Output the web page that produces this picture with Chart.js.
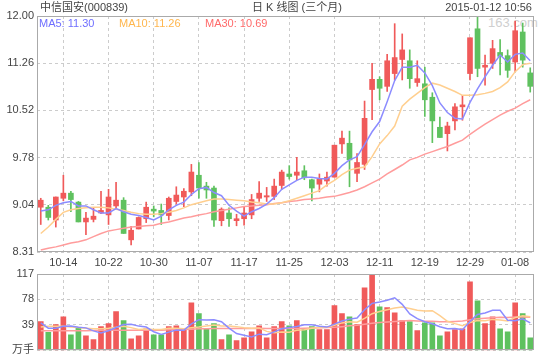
<!DOCTYPE html>
<html>
<head>
<meta charset="utf-8">
<script src="https://cdn.jsdelivr.net/npm/chart.js@4.4.0/dist/chart.umd.min.js"></script>
<style>
  body { margin: 0; background: #fff; }
  #wrap { position: relative; width: 540px; height: 360px; overflow: hidden;
          font-family: "Liberation Sans", "Noto Sans CJK SC", sans-serif; font-size: 11px; color: #444; }
  .txt { position: absolute; line-height: 14px; white-space: nowrap; }
  canvas { position: absolute; left: 0; }
</style>
</head>
<body>
<div id="wrap">
  <div class="txt" style="left:488px;top:16px;font-size:13px;color:#cfcfcf">163.com</div>
  <canvas id="kline" width="540" height="272" style="top:0"></canvas>
  <canvas id="vol" width="540" height="98" style="top:262px"></canvas>
  <div class="txt" style="left:40px;top:0">中信国安(000839)</div>
  <div class="txt" style="left:252px;top:0">日 K 线图 (三个月)</div>
  <div class="txt" style="right:8px;top:0">2015-01-12 10:56</div>
  <div class="txt" id="l5" style="left:39px;top:16px;color:#6f6fff"></div>
  <div class="txt" id="l10" style="left:119px;top:16px;color:#ffb64d"></div>
  <div class="txt" id="l30" style="left:205px;top:16px;color:#ff6a6a"></div>
</div>
<script>
// 中信国安 日K (2014-10-09 .. 2015-01-12)
const dates = ["10-09","10-10","10-13","10-14","10-15","10-16","10-17","10-20","10-21","10-22",
  "10-23","10-24","10-27","10-28","10-29","10-30","10-31","11-03","11-04","11-05",
  "11-06","11-07","11-10","11-11","11-12","11-13","11-14","11-17","11-18","11-19",
  "11-20","11-21","11-24","11-25","11-26","11-27","11-28","12-01","12-02","12-03",
  "12-04","12-05","12-08","12-09","12-10","12-11","12-12","12-15","12-16","12-17",
  "12-18","12-19","12-22","12-23","12-24","12-25","12-26","12-29","12-30","12-31",
  "01-05","01-06","01-07","01-08","01-09","01-12"];

const opens = [9.01,9.01,8.81,9.15,9.23,9.09,8.78,8.82,8.92,8.89,
  9.03,9.12,8.50,8.67,8.83,8.98,8.96,8.88,9.10,9.17,
  9.25,9.51,9.34,9.31,8.80,8.92,8.80,8.83,8.89,9.15,
  9.17,9.18,9.35,9.53,9.51,9.58,9.44,9.37,9.42,9.48,
  10.00,10.01,9.54,9.68,10.85,11.01,10.90,11.10,11.32,11.30,
  10.96,10.94,10.73,10.26,10.16,10.36,10.58,11.10,11.80,11.20,
  11.26,11.43,11.38,11.28,11.75,11.11];
const closes = [9.12,8.85,9.17,9.23,9.13,8.78,8.84,8.87,8.96,9.17,
  9.12,8.60,8.65,8.85,9.01,8.95,8.89,9.15,9.20,9.26,
  9.56,9.31,9.28,8.81,8.98,8.83,8.83,8.92,9.13,9.23,
  9.19,9.34,9.56,9.49,9.56,9.47,9.31,9.45,9.48,9.98,
  10.09,9.75,9.71,10.40,11.01,10.87,11.30,11.35,11.47,11.02,
  11.02,10.69,10.36,10.10,10.28,10.58,10.61,11.66,11.18,11.23,
  11.49,11.37,11.15,11.77,11.31,10.90];
const highs = [9.15,9.04,9.17,9.51,9.26,9.10,8.93,9.00,9.26,9.29,
  9.40,9.16,8.71,8.86,9.09,9.03,9.06,9.17,9.33,9.30,
  9.68,9.71,9.40,9.34,9.00,9.00,8.90,9.02,9.21,9.41,
  9.32,9.45,9.59,9.66,9.79,9.66,9.45,9.53,9.56,9.98,
  10.20,10.20,9.85,10.67,11.26,11.05,11.40,11.88,11.72,11.47,
  11.30,11.20,10.80,10.42,10.34,10.63,10.76,11.66,11.99,11.39,
  11.62,11.63,11.47,11.92,11.89,11.19];
const lows = [8.74,8.81,8.70,9.11,8.94,8.78,8.58,8.78,8.91,8.74,
  8.99,8.60,8.42,8.67,8.77,8.86,8.74,8.81,9.06,9.02,
  9.19,9.15,9.15,8.71,8.72,8.71,8.72,8.73,8.83,9.10,
  9.10,9.13,9.29,9.45,9.44,9.44,9.11,9.25,9.34,9.48,
  9.85,9.33,9.41,9.60,10.38,10.69,10.82,11.00,11.00,10.87,
  10.90,10.43,10.02,10.10,9.89,10.22,10.37,11.00,11.05,10.92,
  11.18,11.08,11.04,11.13,11.20,10.81];

const ma5 = [8.95,8.97,9.04,9.08,9.10,9.03,9.03,8.97,8.92,8.92,
  8.99,8.94,8.90,8.88,8.85,8.81,8.87,8.97,9.04,9.09,
  9.21,9.30,9.32,9.24,9.19,9.04,8.95,8.87,8.94,8.99,
  9.06,9.16,9.29,9.36,9.43,9.48,9.48,9.46,9.45,9.54,
  9.66,9.75,9.80,9.99,10.19,10.35,10.66,10.99,11.20,11.20,
  11.23,11.11,10.91,10.64,10.49,10.40,10.39,10.65,10.86,11.05,
  11.23,11.39,11.28,11.40,11.42,11.30];
const ma10 = [8.60,8.70,8.82,8.93,8.97,8.99,9.00,9.01,9.01,9.00,
  8.98,8.96,8.93,8.91,8.90,8.90,8.91,8.93,8.96,9.00,
  9.05,9.08,9.11,9.14,9.14,9.13,9.12,9.11,9.09,9.08,
  9.06,9.06,9.08,9.11,9.15,9.19,9.23,9.27,9.36,9.43,
  9.52,9.59,9.62,9.64,9.80,10.00,10.13,10.28,10.59,10.70,
  10.79,10.88,10.95,10.92,10.87,10.82,10.76,10.76,10.77,10.79,
  10.82,10.88,10.97,11.13,11.24,11.26];
const ma30 = [8.34,8.37,8.39,8.42,8.45,8.47,8.50,8.55,8.60,8.64,
  8.66,8.68,8.70,8.71,8.72,8.73,8.76,8.78,8.81,8.84,
  8.86,8.89,8.91,8.94,8.96,8.98,9.00,9.02,9.03,9.04,
  9.05,9.07,9.08,9.10,9.11,9.13,9.14,9.15,9.17,9.18,
  9.21,9.24,9.28,9.33,9.39,9.45,9.53,9.60,9.67,9.75,
  9.79,9.84,9.88,9.92,9.96,10.01,10.06,10.15,10.23,10.31,
  10.38,10.45,10.51,10.56,10.63,10.69];

// 成交量 (万手)
const volumes = [44,27.6,39.4,51.6,24,34.8,22.5,16.4,36.3,40.9,
  59.3,45.5,17.9,22.5,33.2,24,24,36.3,37.8,31.7,
  73,56.2,33.2,40.9,16.4,24,14.9,19.4,28.6,37.8,
  19.4,36.3,44,37.8,45.5,33.2,36.3,31.7,31.7,68.5,
  56.2,51.6,39.4,96,117,66.9,65.4,57.7,45.5,44,
  30.2,42.4,42.4,22.5,28.6,31.7,33.2,105.2,76.1,40.9,
  51.6,33.2,28.6,73,56.2,19.4];
const volMa5 = [42,34,34,37,37.3,35.5,34.5,29.9,26.8,30.2,
  35.1,39.7,40.0,37.2,35.7,28.6,24.3,28.0,31.1,30.8,
  40.6,47.0,46.4,47.0,43.9,34.1,25.9,23.1,20.7,24.9,
  24.0,28.3,33.2,35.1,36.6,39.4,39.4,36.9,35.7,40.3,
  44.9,47.9,49.5,62.3,72.0,74.2,76.9,80.6,70.5,55.9,
  48.6,44.0,40.9,36.3,33.2,33.5,31.7,44.2,55.0,57.4,
  61.4,61.4,46.1,45.5,48.5,42.1];
const volMa10 = [36,37,37,37,36,35,34,33,33,33.8,
  35.3,37.1,34.9,32.0,32.9,31.9,32.0,34.0,34.1,33.2,
  34.6,35.7,37.2,39.0,37.4,37.4,36.4,34.8,33.8,34.4,
  29.1,27.1,28.2,27.9,30.8,31.7,33.8,35.1,35.4,38.4,
  42.1,43.7,43.2,49.0,56.2,59.5,62.4,65.0,66.4,64.0,
  61.4,60.5,60.8,53.4,44.6,41.0,37.8,42.6,45.6,45.3,
  47.5,46.5,45.2,50.2,53.0,51.7];
const volMa30 = [30,30,30,30,30,30,30,30.5,31,31,
  31,31,31,31,31,31,31,31.5,32,32,
  32.5,33,33,33.5,33.5,33.5,33.5,33.5,33.5,33.8,
  33.6,33.6,33.7,33.7,33.7,34,34.4,34.7,35,35.4,
  36.4,37.6,38.5,39.9,41.4,42.6,43.5,44.4,45.0,45.6,
  45.2,44.8,44.5,44.0,43.8,44.4,45.0,47.0,48.3,49.2,
  50.1,50.6,50.5,51.0,51.2,50.8];

const priceTicks = [8.31, 9.048, 9.786, 10.524, 11.262, 12.00];
const priceTickLabels = ["8.31", "9.04", "9.78", "10.52", "11.26", "12.00"];
const volTicks = [0, 39, 78, 117];
const volTickLabels = ["万手", "39", "78", "117"];

const RED = "#f05a5a", GREEN = "#5fc15f";
const candleColors = closes.map((c, i) => c >= opens[i] ? RED : GREEN);

Chart.defaults.font.family = '"Liberation Sans", "Noto Sans CJK SC", sans-serif';
Chart.defaults.font.size = 11;
Chart.defaults.color = "#444";

document.getElementById("l5").textContent = "MA5: " + ma5[ma5.length - 1].toFixed(2);
document.getElementById("l10").textContent = "MA10: " + ma10[ma10.length - 1].toFixed(2);
document.getElementById("l30").textContent = "MA30: " + ma30[ma30.length - 1].toFixed(2);

// cadre gris autour de la zone de tracé
const boxPlugin = {
  id: "box",
  afterDraw(chart) {
    const a = chart.chartArea, ctx = chart.ctx;
    ctx.save();
    ctx.strokeStyle = "#aaa";
    ctx.lineWidth = 1;
    ctx.strokeRect(Math.round(a.left) + 0.5, Math.round(a.top) + 0.5,
      Math.round(a.right - a.left) - 1, Math.round(a.bottom - a.top) - 1);
    ctx.restore();
  }
};

function maLine(data, color, order) {
  return { type: "line", data: data, borderColor: color, borderWidth: 1.5,
    pointRadius: 0, tension: 0, fill: false, order: order };
}

function xScale(showLabels) {
  return {
    offset: true,
    grid: { offset: false, drawTicks: false,
      color: c => c.index % 6 === 3 ? "#cccccc" : "rgba(0,0,0,0)" },
    border: { display: false, dash: [3, 3] },
    ticks: { display: showLabels, autoSkip: false, maxRotation: 0, padding: 4,
      callback: (v, i) => i % 6 === 3 ? dates[i] : "" },
    afterFit: s => { s.height = showLabels ? 20 : 0; }
  };
}

function yScale(min, max, ticks, labels) {
  return {
    min: min, max: max,
    afterBuildTicks: s => { s.ticks = ticks.map(v => ({ value: v })); },
    ticks: { padding: 3, callback: (v, i) => labels[i] },
    grid: { drawTicks: false, color: "#cccccc" },
    border: { display: false, dash: [3, 3] },
    afterFit: s => { s.width = 37; }
  };
}

new Chart(document.getElementById("kline"), {
  type: "bar",
  data: {
    labels: dates,
    datasets: [
      maLine(ma5, "#8c8cff", 0),
      maLine(ma10, "#ffcf8f", 0),
      maLine(ma30, "#ff9c9c", 0),
      { data: opens.map((o, i) => [o, closes[i]]), backgroundColor: candleColors,
        barThickness: 5, minBarLength: 1, grouped: false, order: 1 },
      { data: lows.map((l, i) => [l, highs[i]]), backgroundColor: candleColors,
        barThickness: 1, grouped: false, order: 2 }
    ]
  },
  options: {
    responsive: false, animation: false,
    layout: { padding: { top: 16, right: 6, left: 0, bottom: 0 } },
    plugins: { legend: { display: false }, tooltip: { enabled: false } },
    scales: { x: xScale(true), y: yScale(8.31, 12.00, priceTicks, priceTickLabels) }
  },
  plugins: [boxPlugin]
});

new Chart(document.getElementById("vol"), {
  type: "bar",
  data: {
    labels: dates,
    datasets: [
      maLine(volMa5, "#8c8cff", 0),
      maLine(volMa10, "#ffcf8f", 0),
      maLine(volMa30, "#ff9c9c", 0),
      { data: volumes, backgroundColor: candleColors, barThickness: 5, order: 1 }
    ]
  },
  options: {
    responsive: false, animation: false,
    layout: { padding: { top: 12, right: 6, left: 0, bottom: 9 } },
    plugins: { legend: { display: false }, tooltip: { enabled: false } },
    scales: { x: xScale(false), y: yScale(0, 117, volTicks, volTickLabels) }
  },
  plugins: [boxPlugin]
});
</script>
</body>
</html>
